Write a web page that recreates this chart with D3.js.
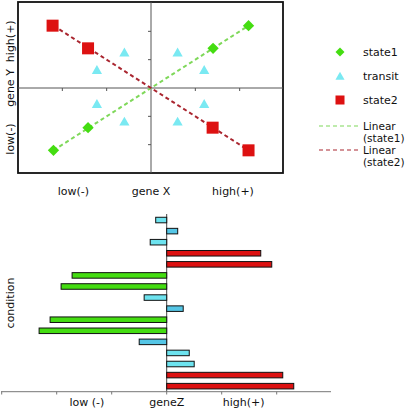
<!DOCTYPE html>
<html><head><meta charset="utf-8">
<script src="https://cdn.jsdelivr.net/npm/d3@7"></script>
<style>body{margin:0;background:#fff}svg{display:block}text{font-family:Verdana,"DejaVu Sans",sans-serif}</style>
</head><body>
<svg id="c" width="410" height="413"></svg>
<script>
// Scatter data
const state1X = [-2.2, -1.42, 1.4, 2.2];
const state1Y = [-2.2, -1.4, 1.4, 2.2];
const transitX = [-0.6, -1.22, 0.6, 1.2, -1.22, -0.6, 0.6, 1.2];
const transitY = [1.22, 0.6, 1.22, 0.6, -0.6, -1.22, -1.22, -0.6];
const state2X = [-2.22, -1.42, 1.39, 2.2];
const state2Y = [2.2, 1.4, -1.4, -2.2];
const fit1 = [[-2.2, -2.2], [2.2, 2.2]];
const fit2 = [[-2.2, 2.2], [2.2, -2.2]];
const xTicks = [-2, -1, 1, 2];
const yTicks = [-2, -1, 1, 2];
const xLabels = ["low(-)", "gene X", "high(+)"];
const yLabels = ["low(-)", "gene Y", "high(+)"];
const legendLabels = ["state1", "transit", "state2", "Linear (state1)", "Linear (state2)"];

// Bar data
const conditions = d3.range(1, 17).map(i => "c" + i);
const geneZ = [-0.2, 0.2, -0.3, 1.71, 1.91, -1.72, -1.92, -0.41, 0.3, -2.12, -2.32, -0.5, 0.41, 0.5, 2.11, 2.31];
const barGroup = ["t", "b", "t", "r", "r", "g", "g", "t", "b", "g", "g", "b", "t", "t", "r", "r"];
const zTicks = [-3, -2, -1, 0, 1, 2];
const zLabels = ["low (-)", "geneZ", "high(+)"];

const C = {g: "#44dd11", r: "#dd1111", t: "#6de3ef", b: "#55c6e6", tri: "#7ae9f2", fit1: "#7fd85a", fit2: "#aa2630"};

const svg = d3.select("#c");

// ---------- top scatter ----------
const x = d3.scaleLinear().domain([-3, 3]).range([18, 284]);
const y = d3.scaleLinear().domain([-3, 3]).range([173, 3]);
const gTop = svg.append("g");
gTop.append("rect").attr("x", 18).attr("y", 2).attr("width", 265).attr("height", 171)
  .attr("fill", "none").attr("stroke", "#111").attr("stroke-width", 1.8);
gTop.append("line").attr("x1", 18).attr("x2", 283).attr("y1", y(0)).attr("y2", y(0)).attr("stroke", "#555").attr("stroke-width", 1);
gTop.append("line").attr("x1", x(0)).attr("x2", x(0)).attr("y1", 2).attr("y2", 173).attr("stroke", "#555").attr("stroke-width", 1);
gTop.selectAll(".xt").data(xTicks).join("line").attr("x1", d => x(d)).attr("x2", d => x(d))
  .attr("y1", y(0)).attr("y2", y(0) + 3).attr("stroke", "#555");
gTop.selectAll(".yt").data(yTicks).join("line").attr("y1", d => y(d)).attr("y2", d => y(d))
  .attr("x1", x(0) - 3).attr("x2", x(0)).attr("stroke", "#555");

const line = d3.line().x(d => x(d[0])).y(d => y(d[1]));
gTop.append("path").attr("d", line(fit1)).attr("stroke", C.fit1).attr("stroke-width", 2).attr("stroke-dasharray", "4,3").attr("fill", "none");
gTop.append("path").attr("d", line(fit2)).attr("stroke", C.fit2).attr("stroke-width", 2).attr("stroke-dasharray", "4,3").attr("fill", "none");

const tri = d3.symbol().type(d3.symbolTriangle).size(45);
gTop.selectAll(".tr").data(transitX).join("path").attr("d", tri)
  .attr("transform", (d, i) => `translate(${x(d)},${y(transitY[i])})`).attr("fill", C.tri);
const dia = d3.symbol().type(d3.symbolSquare).size(64);
gTop.selectAll(".di").data(state1X).join("path").attr("d", dia)
  .attr("transform", (d, i) => `translate(${x(d)},${y(state1Y[i])}) rotate(45)`).attr("fill", C.g);
gTop.selectAll(".sq").data(state2X).join("rect")
  .attr("x", d => x(d) - 6).attr("y", (d, i) => y(state2Y[i]) - 6).attr("width", 12).attr("height", 12).attr("fill", C.r);

const xlPos = [-1.75, 0, 1.85];
gTop.selectAll(".xl").data(xLabels).join("text").attr("x", (d, i) => x(xlPos[i])).attr("y", 195)
  .attr("text-anchor", "middle").attr("font-size", 11).attr("fill", "#111").text(d => d);
const ylPos = [-1.8, 0, 1.65];
gTop.selectAll(".yl").data(yLabels).join("text")
  .attr("transform", (d, i) => `translate(14,${y(ylPos[i])}) rotate(-90)`)
  .attr("text-anchor", "middle").attr("font-size", 11).attr("fill", "#111").text(d => d);

// legend
svg.append("clipPath").attr("id", "lc").append("rect").attr("x", 290).attr("y", 0).attr("width", 120).attr("height", 168);
const lg = svg.append("g").attr("clip-path", "url(#lc)");
lg.append("path").attr("d", d3.symbol().type(d3.symbolSquare).size(40)).attr("transform", "translate(340,52) rotate(45)").attr("fill", C.g);
lg.append("path").attr("d", d3.symbol().type(d3.symbolTriangle).size(36)).attr("transform", "translate(340,77)").attr("fill", C.tri);
lg.append("rect").attr("x", 335.5).attr("y", 95.5).attr("width", 9).attr("height", 9).attr("fill", C.r);
const lyy = [52, 76, 100];
lg.selectAll(".lt").data(legendLabels.slice(0, 3)).join("text").attr("x", 363).attr("y", (d, i) => lyy[i] + 4)
  .attr("font-size", 11).attr("fill", "#111").text(d => d);
lg.append("line").attr("x1", 319).attr("x2", 358).attr("y1", 126).attr("y2", 126).attr("stroke", C.fit1).attr("stroke-width", 1.2).attr("stroke-dasharray", "4,3");
lg.append("line").attr("x1", 319).attr("x2", 358).attr("y1", 150).attr("y2", 150).attr("stroke", C.fit2).attr("stroke-width", 1.2).attr("stroke-dasharray", "4,3");
[[legendLabels[3], 126], [legendLabels[4], 150]].forEach(([t, yy]) => {
  const parts = t.split(" ");
  const tx = lg.append("text").attr("x", 363).attr("y", yy + 4).attr("font-size", 10.5).attr("fill", "#111");
  tx.append("tspan").attr("x", 363).text(parts[0]);
  tx.append("tspan").attr("x", 363).attr("dy", 11.5).text(parts[1]);
});

// ---------- bottom bars ----------
const zx = d3.scaleLinear().domain([-3, 3]).range([1.7, 331.7]);
const by = d3.scaleBand().domain(conditions).range([214.5, 391.7]).paddingInner(0.5).paddingOuter(0.25);
const bot = svg.append("g");
bot.append("line").attr("x1", zx(0)).attr("x2", zx(0)).attr("y1", 214).attr("y2", 392).attr("stroke", "#444").attr("stroke-width", 1);
bot.selectAll(".bar").data(geneZ).join("rect")
  .attr("x", d => Math.min(zx(0), zx(d))).attr("width", d => Math.abs(zx(d) - zx(0)))
  .attr("y", (d, i) => by(conditions[i])).attr("height", by.bandwidth())
  .attr("fill", (d, i) => C[barGroup[i]]).attr("stroke", "#111").attr("stroke-width", 1);
bot.append("line").attr("x1", 1).attr("x2", 331).attr("y1", 391.7).attr("y2", 391.7).attr("stroke", "#777").attr("stroke-width", 1);
bot.selectAll(".zt").data(zTicks).join("line").attr("x1", d => zx(d)).attr("x2", d => zx(d))
  .attr("y1", 391.7).attr("y2", 394.5).attr("stroke", "#777");
const zlPos = [-1.45, 0, 1.4];
bot.selectAll(".zl").data(zLabels).join("text").attr("x", (d, i) => zx(zlPos[i])).attr("y", 406)
  .attr("text-anchor", "middle").attr("font-size", 11).attr("fill", "#111").text(d => d);
bot.append("text").attr("transform", "translate(14,303) rotate(-90)").attr("text-anchor", "middle")
  .attr("font-size", 11).attr("fill", "#111").text("condition");
</script>
</body></html>
